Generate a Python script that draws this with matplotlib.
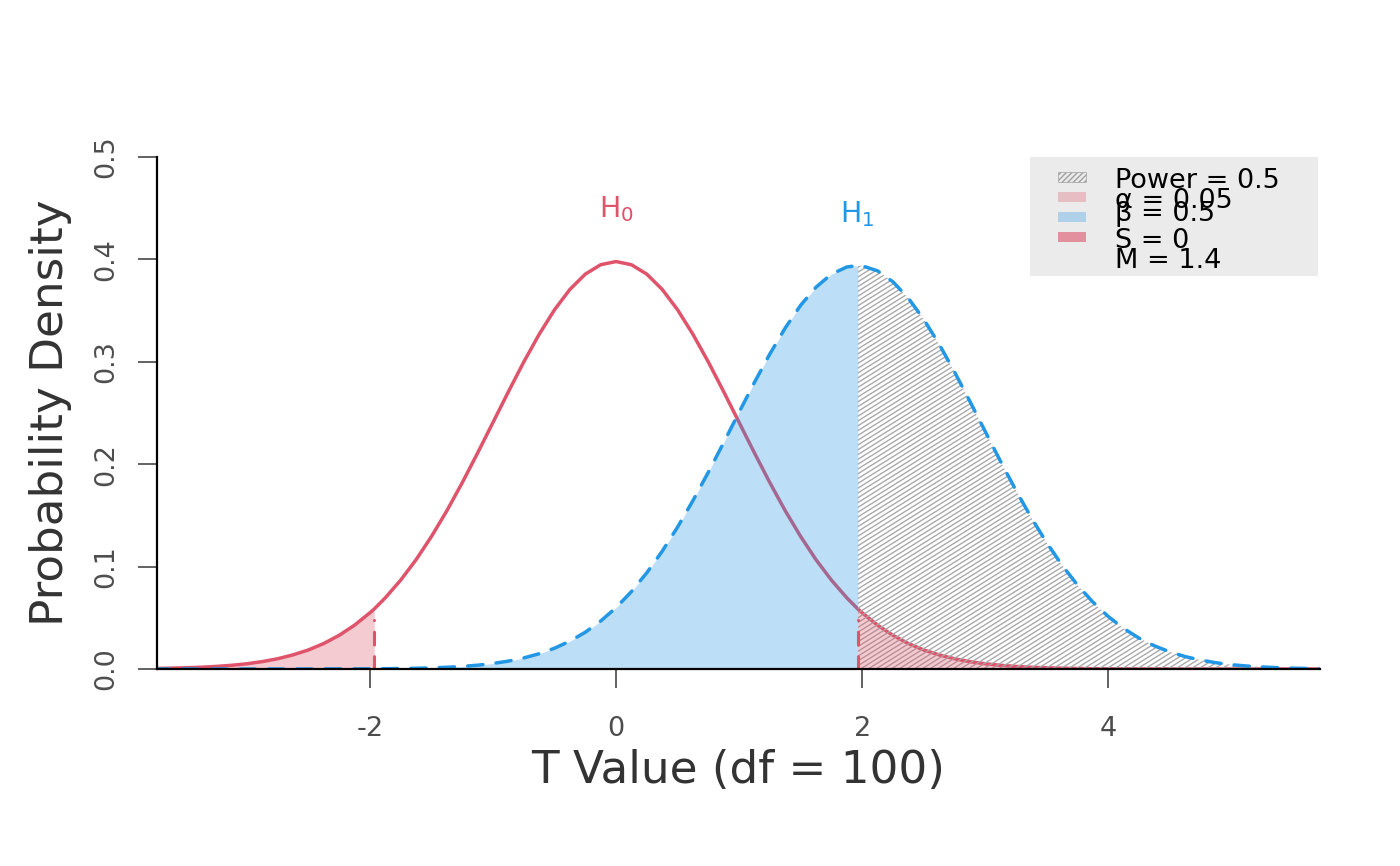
import matplotlib.pyplot as plt
import numpy as np
from matplotlib.collections import LineCollection
from matplotlib.patches import Rectangle

t_values = [-3.75, -3.625, -3.5, -3.375, -3.25, -3.125, -3.0, -2.875, -2.75, -2.625,
	-2.5, -2.375, -2.25, -2.125, -2.0, -1.965, -1.875, -1.75, -1.625, -1.5,
	-1.375, -1.25, -1.125, -1.0, -0.875, -0.75, -0.625, -0.5, -0.375, -0.25,
	-0.125, 0.0, 0.125, 0.25, 0.375, 0.5, 0.625, 0.75, 0.875, 1.0,
	1.125, 1.25, 1.375, 1.5, 1.625, 1.75, 1.875, 1.965, 2.0, 2.125,
	2.25, 2.375, 2.5, 2.625, 2.75, 2.875, 3.0, 3.125, 3.25, 3.375,
	3.5, 3.625, 3.75, 3.875, 4.0, 4.125, 4.25, 4.375, 4.5, 4.625,
	4.75, 4.875, 5.0, 5.125, 5.25, 5.375, 5.5, 5.625, 5.75]

h0_density = [0.0005, 0.0008, 0.0012, 0.0017, 0.0025, 0.0036, 0.0051, 0.0072, 0.0100, 0.0138,
	0.0186, 0.0249, 0.0329, 0.0428, 0.0549, 0.0586, 0.0695, 0.0868, 0.1067, 0.1294,
	0.1545, 0.1819, 0.2109, 0.2408, 0.2707, 0.2998, 0.3268, 0.3508, 0.3707, 0.3856,
	0.3948, 0.3979, 0.3948, 0.3856, 0.3707, 0.3508, 0.3268, 0.2998, 0.2707, 0.2408,
	0.2109, 0.1819, 0.1545, 0.1294, 0.1067, 0.0868, 0.0695, 0.0586, 0.0549, 0.0428,
	0.0329, 0.0249, 0.0186, 0.0138, 0.0100, 0.0072, 0.0051, 0.0036, 0.0025, 0.0017,
	0.0012, 0.0008, 0.0005, 0.0003, 0.0002, 0.0001, 0.0001, 0.0001, 0.0, 0.0,
	0.0, 0.0, 0.0, 0.0, 0.0, 0.0, 0.0, 0.0, 0.0]

h1_density = [0.0, 0.0, 0.0, 0.0, 0.0, 0.0, 0.0, 0.0, 0.0, 0.0,
	0.0, 0.0001, 0.0001, 0.0001, 0.0002, 0.0002, 0.0003, 0.0005, 0.0007, 0.0011,
	0.0017, 0.0025, 0.0037, 0.0054, 0.0077, 0.0108, 0.0149, 0.0203, 0.0272, 0.0359,
	0.0468, 0.0599, 0.0756, 0.0940, 0.1150, 0.1386, 0.1645, 0.1922, 0.2212, 0.2508,
	0.2800, 0.3077, 0.3331, 0.3552, 0.3729, 0.3856, 0.3926, 0.3940, 0.3937, 0.3888,
	0.3781, 0.3621, 0.3415, 0.3172, 0.2902, 0.2614, 0.2319, 0.2026, 0.1743, 0.1476,
	0.1232, 0.1012, 0.0819, 0.0653, 0.0512, 0.0396, 0.0301, 0.0226, 0.0167, 0.0121,
	0.0087, 0.0061, 0.0042, 0.0029, 0.0020, 0.0013, 0.0008, 0.0005, 0.0003]

crit_t = 1.965
crit_mark_height = 0.048
h1_label_t = 1.96
x_ticks = [-2, 0, 2, 4]
y_ticks = [0.0, 0.1, 0.2, 0.3, 0.4, 0.5]
y_tick_labels = ['0.0', '0.1', '0.2', '0.3', '0.4', '0.5']
legend_labels = ['Power = 0.5', '\u03b1 = 0.05', '\u03b2 = 0.5', 'S = 0', 'M = 1.4']

RED = '#DF536B'
BLUE = '#2297E6'


def add_hatch(ax, x, y, angle=32, step_px=4.8):
	# hatch lines at a fixed on-screen angle, clipped to the area under the curve
	poly = ax.fill_between(x, 0, y, facecolor='none', edgecolor='none')
	p = ax.transData.transform([[0, 0], [1, 1]])
	sx = p[1, 0] - p[0, 0]
	sy = p[1, 1] - p[0, 1]
	m = np.tan(np.radians(angle)) * sx / sy
	dx = (step_px / sy) / m
	top = 0.5
	starts = np.arange(x[0] - top / m, x[-1] + dx, dx)
	segs = [[(s, 0), (s + top / m, top)] for s in starts]
	lc = LineCollection(segs, colors='#AAAAAA', linewidths=1.0, zorder=2)
	ax.add_collection(lc)
	lc.set_clip_path(poly.get_paths()[0], ax.transData)


def main():
	x = np.array(t_values)
	h0 = np.array(h0_density)
	h1 = np.array(h1_density)
	assert len(x) == len(h0) == len(h1)

	fig = plt.figure(figsize=(14, 8.66), dpi=100)
	ax = fig.add_axes([157 / 1400, 197 / 866, 1163 / 1400, 512 / 866])
	ax.set_xlim(-3.73, 5.72)
	ax.set_ylim(0, 0.5)

	ax.plot(x, h0, color=RED, lw=2.5, zorder=1, solid_joinstyle='round')

	left = x <= crit_t
	right = x >= crit_t
	ax.fill_between(x[left], 0, h1[left], color=BLUE, alpha=0.3, lw=0, zorder=2)
	add_hatch(ax, x[right], h1[right])
	ax.fill_between(x[x <= -crit_t], 0, h0[x <= -crit_t], color=RED, alpha=0.3, lw=0, zorder=3)
	ax.fill_between(x[right], 0, h0[right], color=RED, alpha=0.3, lw=0, zorder=3)

	crit = ax.vlines([-crit_t, crit_t], 0, crit_mark_height, colors=RED, lw=2.2,
		linestyles=(0, (4.2, 3.8)), zorder=3.5)
	crit.set_capstyle('round')
	ax.plot(x, h1, color=BLUE, lw=2.5, ls=(0, (4.4, 3.8)), dash_capstyle='round',
		dash_joinstyle='round', zorder=4)

	ax.text(0, 0.441, r'$\mathregular{H_0}$', color=RED, fontsize=20.5, ha='center', va='baseline')
	ax.text(h1_label_t, 0.4365, r'$\mathregular{H_1}$', color=BLUE, fontsize=20.5, ha='center', va='baseline')

	# axes styling
	for side in ['top', 'right']:
		ax.spines[side].set_visible(False)
	for side in ['left', 'bottom']:
		ax.spines[side].set_color('black')
		ax.spines[side].set_linewidth(1.6)
		ax.spines[side].set_zorder(5)
	ax.set_xticks(x_ticks)
	ax.set_xticklabels([str(v) for v in x_ticks])
	ax.set_yticks(y_ticks)
	ax.set_yticklabels(y_tick_labels, rotation=90, va='center')
	ax.tick_params(axis='x', length=14, width=1.3, color='#555555', pad=20,
		labelsize=19.5, labelcolor='#4D4D4D')
	ax.tick_params(axis='y', length=14, width=1.3, color='#555555', pad=13,
		labelsize=19.5, labelcolor='#4D4D4D')

	fig.text(738 / 1400, (866 - 783) / 866, 'T Value (df = 100)', fontsize=32.6,
		color='#333333', ha='center', va='baseline')
	fig.text(51 / 1400, (866 - 413) / 866, 'Probability Density', fontsize=32.6,
		color='#333333', ha='center', va='center', rotation=90)

	# legend box drawn by hand (rows overlap like in the original)
	ax.add_patch(Rectangle((0.7506, 0.7676), 0.2477, 0.2324, transform=ax.transAxes,
		facecolor='#EBEBEB', edgecolor='none', zorder=6, clip_on=False))
	plt.rcParams['hatch.linewidth'] = 1.0
	patch_y = [0.961, 0.922, 0.883, 0.844]
	patch_styles = [
		dict(facecolor='none', edgecolor='#A0A0A0', hatch='//////', lw=0.5),
		dict(facecolor=RED, alpha=0.3, edgecolor='none'),
		dict(facecolor=BLUE, alpha=0.3, edgecolor='none'),
		dict(facecolor=RED, alpha=0.6, edgecolor='none'),
	]
	for py, style in zip(patch_y, patch_styles):
		ax.add_patch(Rectangle((0.7747, py - 0.0098), 0.0241, 0.0196, transform=ax.transAxes,
			zorder=7, clip_on=False, **style))
	text_y = [188, 208, 221, 248, 268]
	for label, ty in zip(legend_labels, text_y):
		ax.text(0.8237, (669 - ty) / 512, label, transform=ax.transAxes, fontsize=19.5,
			color='black', ha='left', va='baseline', zorder=8)

	plt.savefig('out.png', dpi=100)


if __name__ == '__main__':
	main()
